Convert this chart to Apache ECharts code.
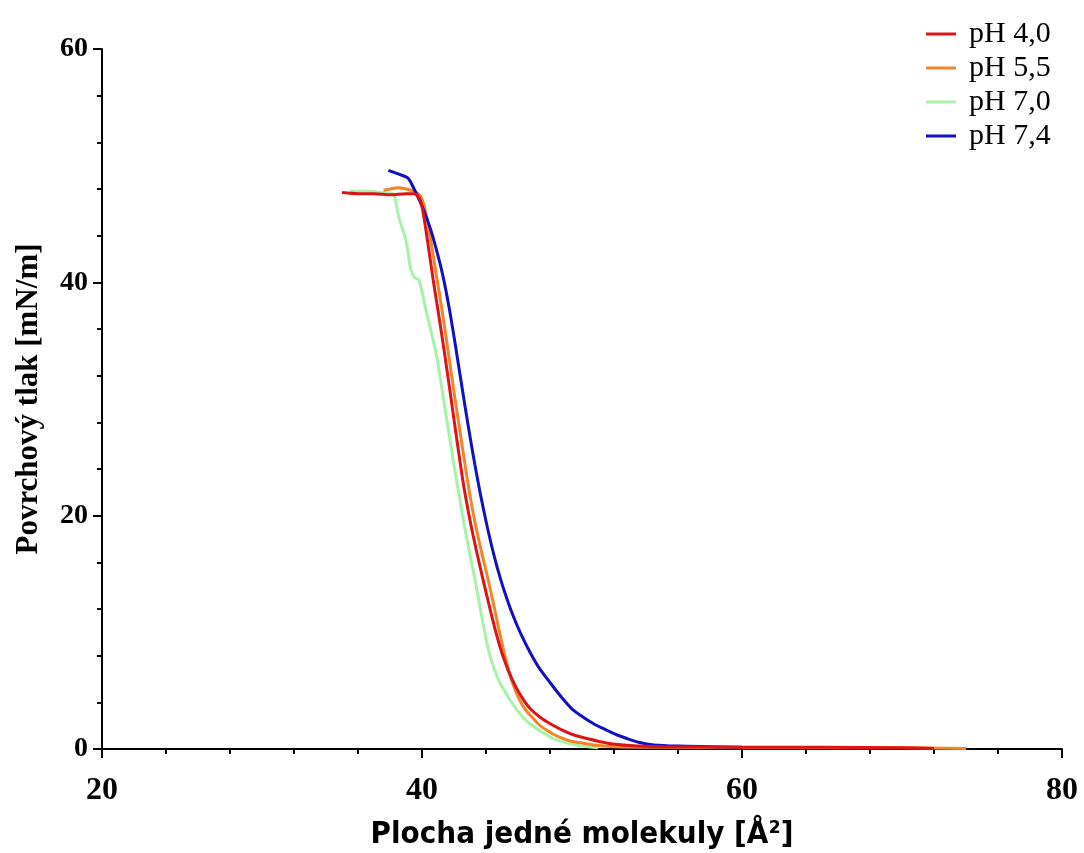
<!DOCTYPE html>
<html><head><meta charset="utf-8">
<script src="https://cdn.jsdelivr.net/npm/echarts@6/dist/echarts.min.js"></script>
<style>html,body{margin:0;padding:0;background:#fff}#c{width:1084px;height:853px}</style>
</head><body><div id="c"></div>
<script>
const seriesNames = ['pH 4,0', 'pH 5,5', 'pH 7,0', 'pH 7,4'];
const xTicks = [20, 40, 60, 80];
const yTicks = [0, 20, 40, 60];

const ph40 = [[35.0,47.7],[36,47.6],[37,47.6],[38,47.5],[39,47.6],[39.5,47.6],[39.8,47.3],[40.0,46.5],[40.3,44.0],[40.7,40.2],[41.0,37.6],[41.4,34.0],[41.8,30.2],[42.2,26.3],[42.6,22.6],[43.0,19.6],[43.4,17.0],[43.8,14.6],[44.2,12.3],[44.6,10.1],[45.0,8.2],[45.4,6.7],[45.8,5.5],[46.3,4.3],[46.8,3.4],[47.4,2.7],[48.1,2.1],[48.8,1.6],[49.5,1.2],[50.3,0.9],[51.6,0.5],[53,0.3],[55,0.2],[60,0.15],[65,0.15],[70,0.1],[72,0.05]];
const ph55 = [[37.6,47.9],[38,48.0],[38.5,48.1],[39,48.0],[39.5,47.8],[39.9,47.4],[40.2,46.2],[40.5,44.0],[40.9,40.6],[41.3,37.2],[41.6,34.4],[42.0,30.6],[42.4,27.0],[42.8,23.4],[43.2,20.2],[43.6,17.6],[44.0,15.3],[44.4,12.9],[44.8,10.3],[45.2,7.9],[45.6,5.9],[46.1,4.2],[46.5,3.3],[46.9,2.7],[47.3,2.1],[47.8,1.6],[48.3,1.2],[48.8,0.9],[49.4,0.65],[50.06,0.5],[51,0.3],[52,0.2],[55,0.15],[60,0.1],[70,0.1],[74,0.05]];
const ph70 = [[35.5,47.8],[36.5,47.8],[37.5,47.7],[38.2,47.6],[38.35,47.0],[38.5,45.9],[38.7,44.9],[38.94,43.9],[39.1,42.8],[39.25,41.4],[39.4,40.7],[39.55,40.4],[39.8,40.2],[40.0,39.2],[40.2,37.9],[40.5,36.2],[40.9,33.8],[41.3,30.4],[41.7,26.9],[42.1,23.5],[42.5,20.3],[42.9,17.3],[43.3,14.6],[43.7,11.6],[44.1,8.8],[44.5,6.9],[44.9,5.6],[45.5,4.2],[45.9,3.4],[46.3,2.75],[46.8,2.1],[47.4,1.55],[48.2,0.9],[49.06,0.5],[50,0.25],[51,0.1]];
const ph74 = [[37.9,49.6],[38.3,49.4],[38.7,49.2],[39.06,49.0],[39.25,48.7],[39.4,48.3],[39.75,47.3],[40.1,46.2],[40.5,44.7],[40.9,42.8],[41.3,40.6],[41.7,37.8],[42.1,34.5],[42.5,31.0],[42.9,27.6],[43.3,24.4],[43.7,21.5],[44.1,18.9],[44.5,16.6],[44.9,14.6],[45.3,12.9],[45.7,11.4],[46.2,9.8],[46.75,8.3],[47.3,7.0],[48.0,5.7],[48.8,4.3],[49.4,3.4],[50.06,2.74],[50.8,2.1],[51.56,1.6],[52.2,1.2],[52.8,0.9],[53.6,0.55],[54.5,0.35],[56,0.25],[58,0.2],[60,0.15]];

const colors = ['#dc1414', '#f2852a', '#a6f2a6', '#1010c4'];
const datas = [ph40, ph55, ph70, ph74];
const zs = [6, 3, 2, 4];

const chart = echarts.init(document.getElementById('c'), null, {renderer: 'canvas'});
chart.setOption({
  animation: false,
  backgroundColor: '#fff',
  grid: {left: 102, right: 22, top: 49, bottom: 104, containLabel: false, outerBoundsMode: 'none'},
  legend: {
    orient: 'vertical', left: 921, top: 13, itemGap: 2,
    itemWidth: 30, itemHeight: 3, icon: 'rect',
    data: seriesNames,
    textStyle: {fontFamily: 'Liberation Serif', fontSize: 30, color: '#000', lineHeight: 32, padding: [0,0,0,8]}
  },
  xAxis: {
    type: 'value', min: xTicks[0], max: xTicks[xTicks.length-1], interval: 20,
    name: 'Plocha jedné molekuly [Å²]', nameLocation: 'middle', nameGap: 70,
    nameTextStyle: {fontFamily: 'Liberation Sans Narrow, DejaVu Sans Condensed, Liberation Sans', fontWeight: 'bold', fontSize: 31, color: '#000'},
    axisLine: {lineStyle: {color: '#000', width: 2}},
    axisTick: {show: true, inside: false, length: 9, lineStyle: {color: '#000', width: 2}},
    minorTick: {show: true, splitNumber: 5, length: 5, lineStyle: {color: '#000', width: 2}},
    axisLabel: {fontFamily: 'Liberation Serif', fontWeight: 'bold', fontSize: 32, color: '#000', margin: 26},
    splitLine: {show: false}
  },
  yAxis: {
    type: 'value', min: yTicks[0], max: yTicks[yTicks.length-1], interval: 20,
    name: 'Povrchový tlak [mN/m]', nameLocation: 'middle', nameGap: 58, nameRotate: 90,
    nameTextStyle: {fontFamily: 'Liberation Serif', fontWeight: 'bold', fontSize: 31, color: '#000'},
    axisLine: {show: true, lineStyle: {color: '#000', width: 2}},
    axisTick: {show: true, inside: false, length: 9, lineStyle: {color: '#000', width: 2}},
    minorTick: {show: true, splitNumber: 5, length: 5, lineStyle: {color: '#000', width: 2}},
    axisLabel: {fontFamily: 'Liberation Serif', fontWeight: 'bold', fontSize: 28, color: '#000', margin: 14},
    splitLine: {show: false}
  },
  series: seriesNames.map((n, i) => ({
    name: n, type: 'line', data: datas[i], symbol: 'none', smooth: 0.25, z: zs[i],
    lineStyle: {color: colors[i], width: 3}, itemStyle: {color: colors[i]}
  }))
});
</script></body></html>
